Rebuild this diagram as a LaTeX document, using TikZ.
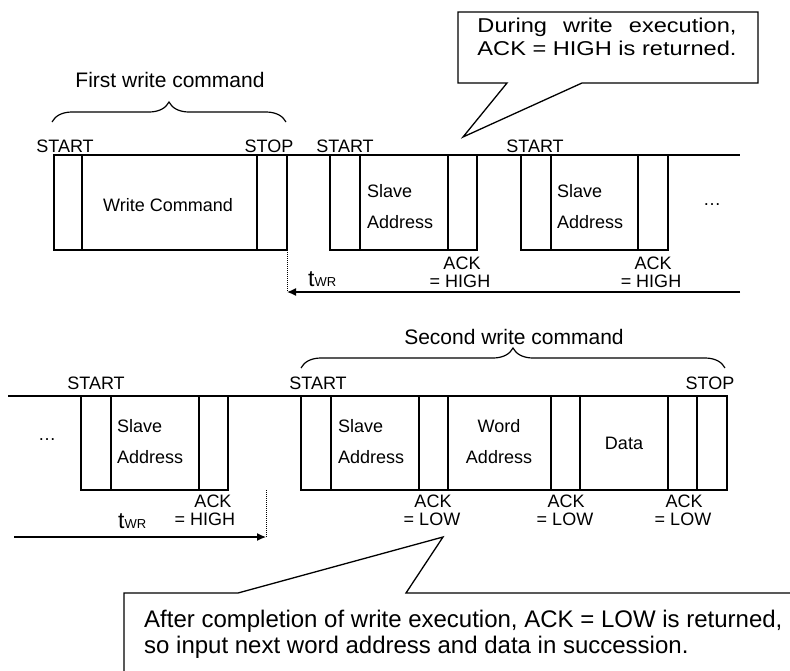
\documentclass[tikz,border=0pt]{standalone}
\usepackage{fontspec}
\setmainfont{Liberation Sans}
\usetikzlibrary{arrows.meta,decorations.pathreplacing}
\begin{document}
\begin{tikzpicture}[x=1pt,y=-1pt,
  sig/.style={line width=1.3pt},
  lbl/.style={anchor=base,inner sep=0pt,font=\fontsize{18}{18}\selectfont},
  lblw/.style={anchor=base west,inner sep=0pt,font=\fontsize{18}{18}\selectfont},
  brlbl/.style={anchor=base,inner sep=0pt,font=\fontsize{21}{21}\selectfont},
  twrlbl/.style={anchor=base west,inner sep=0pt,font=\fontsize{23}{23}\selectfont},
  dotline/.style={densely dotted,line width=1pt},
  timearrow/.style={line width=1.3pt,-{Latex[length=9pt,width=8pt]}},
  bracestyle/.style={line width=1.2pt,decorate,decoration={brace,amplitude=20pt}},
  callout/.style={line width=1.3pt,line join=miter}
]
\useasboundingbox (0,0) rectangle (790,670);

% ---------- top row ----------
\draw[sig] (54,155) -- (740,155);
\draw[sig] (54,155) rectangle (287,250);
\draw[sig] (82,155) -- (82,250) (257,155) -- (257,250);
\draw[sig] (330,155) rectangle (477,250);
\draw[sig] (360,155) -- (360,250) (448,155) -- (448,250);
\draw[sig] (521,155) rectangle (668,250);
\draw[sig] (551,155) -- (551,250) (638,155) -- (638,250);

\node[lbl] (st1) at (65,152) {START};
\node[lbl] (sp1) at (269,152) {STOP};
\node[lbl] (st2) at (345,152) {START};
\node[lbl] (st3) at (535,152) {START};
\node[lbl] (wc) at (168,211) {Write Command};
\node[lblw] (sa1a) at (367,197) {Slave};
\node[lblw] (sa1b) at (367,228) {Address};
\node[lblw] (sa2a) at (557,197) {Slave};
\node[lblw] (sa2b) at (557,228) {Address};
\node[lbl] (dots1) at (712,205) {…};
\node[lbl] (ack1a) at (462,269) {ACK};
\node[lbl] (ack1b) at (460,287) {= HIGH};
\node[lbl] (ack2a) at (653,269) {ACK};
\node[lbl] (ack2b) at (651,287) {= HIGH};

\coordinate (tw1s) at (287,250);
\coordinate (tw1e) at (287,292);
\coordinate (tw1r) at (740,292);
\draw[dotline] (tw1s) -- (tw1e);
\draw[timearrow] (tw1r) -- (tw1e);
\node[twrlbl] (twr1) at (308,286) {t{\fontsize{13}{13}\selectfont WR}};

\coordinate (b1l) at (52,122);
\coordinate (b1r) at (286,122);
\draw[bracestyle] (b1l) -- (b1r);
\node[brlbl] (fwc) at (170,87) {First write command};

% callout 1
\draw[callout] (458,12) -- (758,12) -- (758,83) -- (582,83) -- (463,137) -- (507,83) -- (458,83) -- cycle;
\node[anchor=base,inner sep=0pt,font=\fontsize{20}{20}\selectfont] (c1a) at (607,32)
  {\resizebox{259pt}{\height}{\makebox[10.976em][s]{During write execution,}}};
\node[anchor=base,inner sep=0pt,font=\fontsize{20}{20}\selectfont] (c1b) at (607,55)
  {\resizebox{259pt}{\height}{ACK = HIGH is returned.}};

% ---------- bottom row ----------
\draw[sig] (8,396) -- (727,396);
\draw[sig] (81,396) rectangle (228,490);
\draw[sig] (111,396) -- (111,490) (199,396) -- (199,490);
\draw[sig] (301,396) rectangle (727,490);
\foreach \xx in {331,419,448,551,580,668,697}
  \draw[sig] (\xx,396) -- (\xx,490);

\node[lbl] (st4) at (96,389) {START};
\node[lbl] (st5) at (318,389) {START};
\node[lbl] (sp2) at (710,389) {STOP};
\node[lbl] (dots2) at (47,440) {…};
\node[lblw] (sa3a) at (117,432) {Slave};
\node[lblw] (sa3b) at (117,463) {Address};
\node[lblw] (sa4a) at (338,432) {Slave};
\node[lblw] (sa4b) at (338,463) {Address};
\node[lbl] (wa1) at (499,432) {Word};
\node[lbl] (wa2) at (499,463) {Address};
\node[lbl] (dat) at (624,449) {Data};

\node[lbl] (ack3a) at (213,507) {ACK};
\node[lbl] (ack3b) at (205,525) {= HIGH};
\node[lbl] (ack4a) at (433,507) {ACK};
\node[lbl] (ack4b) at (432,525) {= LOW};
\node[lbl] (ack5a) at (566,507) {ACK};
\node[lbl] (ack5b) at (565,525) {= LOW};
\node[lbl] (ack6a) at (684,507) {ACK};
\node[lbl] (ack6b) at (683,525) {= LOW};

\coordinate (tw2s) at (266,490);
\coordinate (tw2e) at (266,537);
\coordinate (tw2l) at (14,537);
\draw[dotline] (tw2s) -- (tw2e);
\draw[timearrow] (tw2l) -- (tw2e);
\node[twrlbl] (twr2) at (118,528) {t{\fontsize{13}{13}\selectfont WR}};

\coordinate (b2l) at (301,368);
\coordinate (b2r) at (725,368);
\draw[bracestyle] (b2l) -- (b2r);
\node[brlbl] (swc) at (514,344) {Second write command};

% callout 2
\draw[callout] (124,672) -- (124,593) -- (238,593) -- (443,537) -- (406,593) -- (792,593);
\node[anchor=base west,inner sep=0pt,font=\fontsize{24}{24}\selectfont] (c2a) at (144,627)
  {After completion of write execution, ACK = LOW is returned,};
\node[anchor=base west,inner sep=0pt,font=\fontsize{24}{24}\selectfont] (c2b) at (144,653)
  {so input next word address and data in succession.};
\end{tikzpicture}
\end{document}
